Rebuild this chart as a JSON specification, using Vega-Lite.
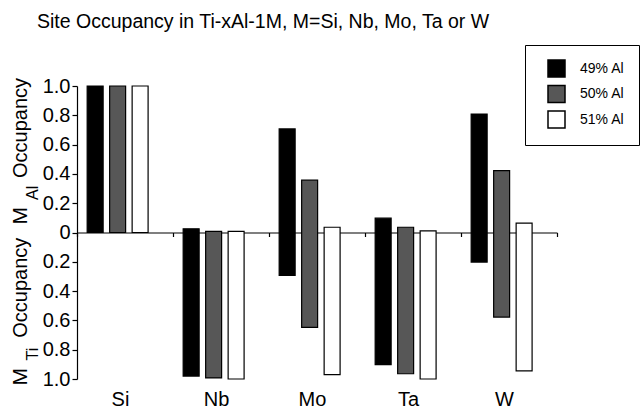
{
  "$schema": "https://vega.github.io/schema/vega-lite/v6.json",
  "width": 480,
  "height": 293,
  "autosize": {"type": "none"},
  "padding": {"left": 77, "top": 86, "right": 85, "bottom": 39},
  "background": "white",
  "config": {
    "view": {"stroke": null},
    "font": "Liberation Sans",
    "text": {"font": "Liberation Sans", "color": "black"}
  },
  "title": {
    "text": "Site Occupancy in Ti-xAl-1M, M=Si, Nb, Mo, Ta or W",
    "anchor": "start",
    "frame": "group",
    "dx": -40,
    "offset": -3,
    "font": "Liberation Sans",
    "fontSize": 19.5,
    "fontWeight": "normal",
    "color": "black",
    "baseline": "alphabetic"
  },
  "resolve": {"axis": {"y": "independent"}},
  "data": {
    "values": [
      {"element": "Si", "alloy": "49% Al", "top": 1.0, "bottom": 0.0},
      {"element": "Si", "alloy": "50% Al", "top": 1.0, "bottom": 0.0},
      {"element": "Si", "alloy": "51% Al", "top": 1.0, "bottom": 0.0},
      {"element": "Nb", "alloy": "49% Al", "top": 0.025, "bottom": -0.98},
      {"element": "Nb", "alloy": "50% Al", "top": 0.007, "bottom": -0.993},
      {"element": "Nb", "alloy": "51% Al", "top": 0.007, "bottom": -1.0},
      {"element": "Mo", "alloy": "49% Al", "top": 0.707, "bottom": -0.293},
      {"element": "Mo", "alloy": "50% Al", "top": 0.357, "bottom": -0.648},
      {"element": "Mo", "alloy": "51% Al", "top": 0.036, "bottom": -0.97},
      {"element": "Ta", "alloy": "49% Al", "top": 0.098, "bottom": -0.902},
      {"element": "Ta", "alloy": "50% Al", "top": 0.036, "bottom": -0.964},
      {"element": "Ta", "alloy": "51% Al", "top": 0.011, "bottom": -1.0},
      {"element": "W", "alloy": "49% Al", "top": 0.809, "bottom": -0.202},
      {"element": "W", "alloy": "50% Al", "top": 0.423, "bottom": -0.577},
      {"element": "W", "alloy": "51% Al", "top": 0.064, "bottom": -0.945}
    ]
  },
  "layer": [
    {
      "mark": {"type": "bar", "stroke": "black", "strokeWidth": 1.2},
      "encoding": {
        "x": {
          "field": "element",
          "type": "nominal",
          "sort": ["Si", "Nb", "Mo", "Ta", "W"],
          "scale": {"paddingInner": 0, "paddingOuter": 0},
          "axis": {
            "title": null,
            "orient": "bottom",
            "offset": -146.5,
            "domainColor": "black",
            "domainWidth": 1.2,
            "tickColor": "black",
            "tickWidth": 1.2,
            "tickSize": 4,
            "tickBand": "extent",
            "labelAngle": 0,
            "labelFont": "Liberation Sans",
            "labelFontSize": 20,
            "labelColor": "black",
            "labelPadding": 153,
            "labelOffset": -5
          }
        },
        "xOffset": {
          "field": "alloy",
          "type": "nominal",
          "scale": {"paddingInner": 0.29, "paddingOuter": 0.78, "align": 0.29}
        },
        "y": {
          "field": "top",
          "type": "quantitative",
          "scale": {"domain": [-1, 1], "nice": false, "zero": false},
          "axis": {
            "title": null,
            "values": [-1, -0.8, -0.6, -0.4, -0.2, 0, 0.2, 0.4, 0.6, 0.8, 1],
            "labelExpr": "datum.value == 0 ? '0' : format(abs(datum.value), '.1f')",
            "labelOverlap": false,
            "labelBound": false,
            "grid": false,
            "domainColor": "black",
            "domainWidth": 1.2,
            "tickColor": "black",
            "tickWidth": 1.2,
            "tickSize": 5,
            "labelFont": "Liberation Sans",
            "labelFontSize": 20,
            "labelColor": "black",
            "labelPadding": 2
          }
        },
        "y2": {"field": "bottom"},
        "color": {
          "field": "alloy",
          "type": "nominal",
          "scale": {"domain": ["49% Al", "50% Al", "51% Al"], "range": ["#000000", "#575757", "#ffffff"]},
          "legend": {
            "title": null,
            "orient": "none",
            "legendX": 448,
            "legendY": -41,
            "strokeColor": "black",
            "fillColor": "white",
            "padding": 14,
            "symbolType": "square",
            "symbolSize": 289,
            "symbolStrokeColor": "black",
            "symbolStrokeWidth": 1.5,
            "symbolOffset": 8,
            "labelFont": "Liberation Sans",
            "labelFontSize": 14,
            "labelColor": "black",
            "labelOffset": 14,
            "rowPadding": 2.5
          }
        }
      }
    },
    {
      "data": {"values": [{}]},
      "mark": {"type": "text", "angle": 270, "align": "left", "baseline": "alphabetic", "fontSize": 21},
      "encoding": {"text": {"value": "M"}, "x": {"value": -50.3}, "y": {"datum": 0.055, "axis": null}}
    },
    {
      "data": {"values": [{}]},
      "mark": {"type": "text", "angle": 270, "align": "left", "baseline": "alphabetic", "fontSize": 16},
      "encoding": {"text": {"value": "Al"}, "x": {"value": -39.3}, "y": {"datum": 0.222, "axis": null}}
    },
    {
      "data": {"values": [{}]},
      "mark": {"type": "text", "angle": 270, "align": "left", "baseline": "alphabetic", "fontSize": 20},
      "encoding": {"text": {"value": "Occupancy"}, "x": {"value": -50.3}, "y": {"datum": 0.372, "axis": null}}
    },
    {
      "data": {"values": [{}]},
      "mark": {"type": "text", "angle": 270, "align": "left", "baseline": "alphabetic", "fontSize": 21},
      "encoding": {"text": {"value": "M"}, "x": {"value": -50.3}, "y": {"datum": -1.044, "axis": null}}
    },
    {
      "data": {"values": [{}]},
      "mark": {"type": "text", "angle": 270, "align": "left", "baseline": "alphabetic", "fontSize": 16},
      "encoding": {"text": {"value": "Ti"}, "x": {"value": -39.3}, "y": {"datum": -0.874, "axis": null}}
    },
    {
      "data": {"values": [{}]},
      "mark": {"type": "text", "angle": 270, "align": "left", "baseline": "alphabetic", "fontSize": 20},
      "encoding": {"text": {"value": "Occupancy"}, "x": {"value": -50.3}, "y": {"datum": -0.718, "axis": null}}
    }
  ]
}
